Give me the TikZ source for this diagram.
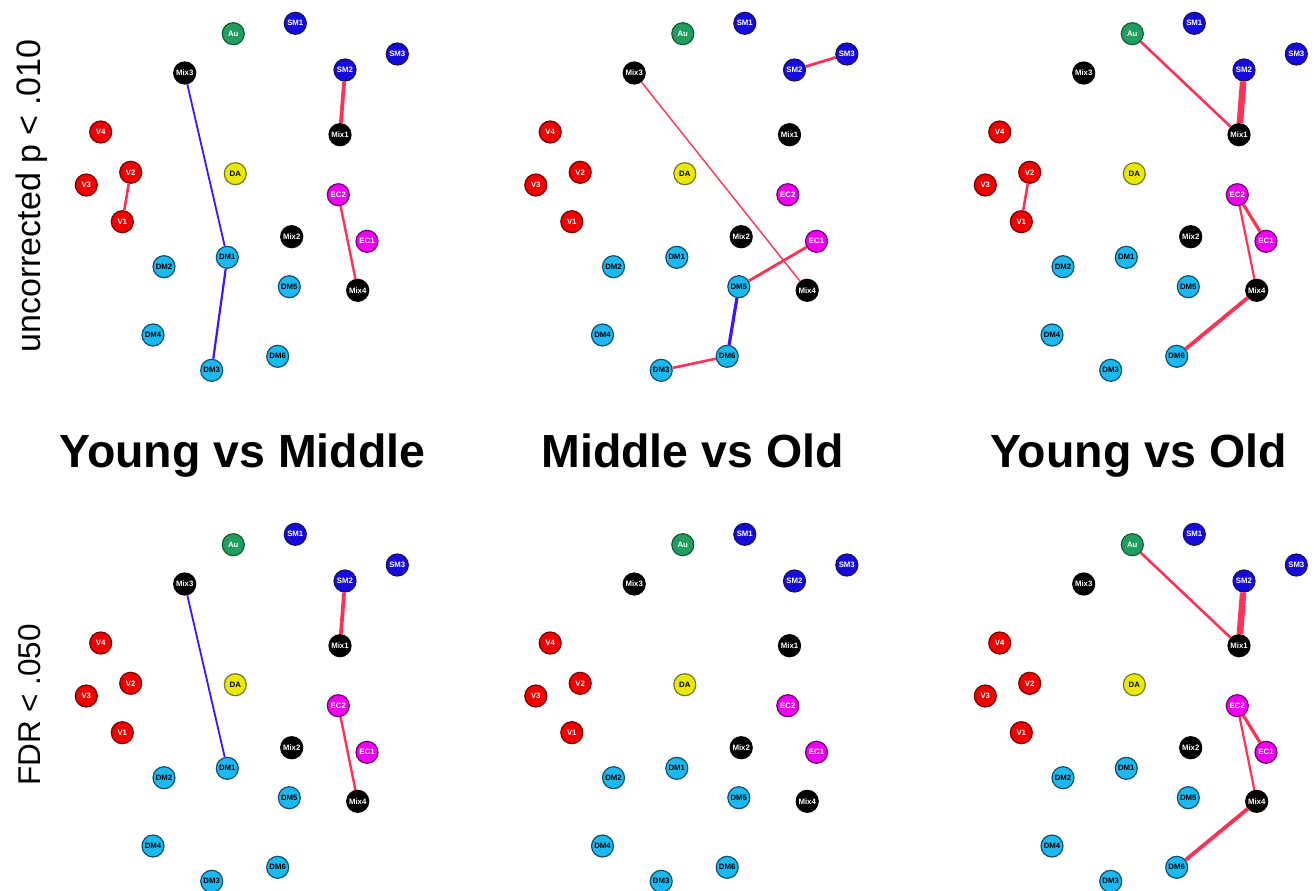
\documentclass[tikz,border=0pt]{standalone}
\usepackage{fontspec}
\setmainfont{Liberation Sans}
\definecolor{cAu}{RGB}{32,158,96}
\definecolor{cAuB}{RGB}{20,90,55}
\definecolor{cSM}{RGB}{22,10,220}
\definecolor{cSMB}{RGB}{20,20,100}
\definecolor{cMix}{RGB}{0,0,0}
\definecolor{cV}{RGB}{240,0,0}
\definecolor{cVB}{RGB}{120,0,0}
\definecolor{cDA}{RGB}{232,232,10}
\definecolor{cDAB}{RGB}{120,120,30}
\definecolor{cEC}{RGB}{240,0,240}
\definecolor{cECB}{RGB}{110,0,110}
\definecolor{cDM}{RGB}{28,184,240}
\definecolor{cDMB}{RGB}{16,80,110}
\definecolor{ePos}{RGB}{255,50,85}
\definecolor{eNeg}{RGB}{60,20,255}
\tikzset{
  roi/.style={circle, minimum size=22pt, inner sep=0pt, line width=1.2pt,
    font=\fontsize{7.8}{8}\selectfont\bfseries},
  au/.style={roi, fill=cAu, draw=cAuB, text=white},
  sm/.style={roi, fill=cSM, draw=cSMB, text=white},
  mix/.style={roi, fill=cMix, draw=black, text=white},
  vis/.style={roi, fill=cV, draw=cVB, text=white},
  da/.style={roi, fill=cDA, draw=cDAB, text=black},
  ec/.style={roi, fill=cEC, draw=cECB, text=white},
  dm/.style={roi, fill=cDM, draw=cDMB, text=black},
  pos/.style={draw=ePos, line width=#1},
  neg/.style={draw=eNeg, line width=#1},
  paneltitle/.style={font=\fontsize{46.5}{50}\selectfont\bfseries, anchor=base},
  rowlabel/.style={rotate=90, anchor=base},
}
\newcommand\roipanel[3]{%
  \begin{scope}[shift={(#2,#3)}]
    \node[au]  (#1Au)   at (233.3,33.7)  {Au};
    \node[sm]  (#1SM1)  at (295.3,23.3)  {SM1};
    \node[sm]  (#1SM3)  at (397.3,54)    {SM3};
    \node[mix] (#1Mix3) at (184.7,73)    {Mix3};
    \node[sm]  (#1SM2)  at (345,70)      {SM2};
    \node[vis] (#1V4)   at (100.7,132)   {V4};
    \node[mix] (#1Mix1) at (340,134.7)   {Mix1};
    \node[vis] (#1V2)   at (130.7,172.3) {V2};
    \node[da]  (#1DA)   at (235.3,173.7) {DA};
    \node[vis] (#1V3)   at (86.3,185)    {V3};
    \node[ec]  (#1EC2)  at (338.3,194.7) {EC2};
    \node[vis] (#1V1)   at (122.3,221.7) {V1};
    \node[mix] (#1Mix2) at (291.7,236.7) {Mix2};
    \node[ec]  (#1EC1)  at (367,241.3)   {EC1};
    \node[dm]  (#1DM1)  at (227.3,257.3) {DM1};
    \node[dm]  (#1DM2)  at (164,266.7)   {DM2};
    \node[dm]  (#1DM5)  at (289.3,286.7) {DM5};
    \node[mix] (#1Mix4) at (357.7,290.3) {Mix4};
    \node[dm]  (#1DM4)  at (153,335)     {DM4};
    \node[dm]  (#1DM6)  at (277.7,356.3) {DM6};
    \node[dm]  (#1DM3)  at (211.7,370.3) {DM3};
  \end{scope}}
\begin{document}
\begin{tikzpicture}[x=1pt,y=-1pt]
  \useasboundingbox (0,0) rectangle (1314,891);
  % panels
  \roipanel{a}{0}{0}
  \roipanel{b}{449.5}{0}
  \roipanel{c}{899}{0}
  \roipanel{d}{0}{511}
  \roipanel{e}{449.5}{511}
  \roipanel{f}{899}{511}
  % Young vs Middle, uncorrected
  \draw[pos=2.6pt] (aV2) -- (aV1);
  \draw[neg=1.8pt] (aMix3) -- (aDM1);
  \draw[neg=2.2pt] (aDM1) -- (aDM3);
  \draw[pos=3.8pt] (aSM2) -- (aMix1);
  \draw[pos=2.4pt] (aEC2) -- (aMix4);
  % Middle vs Old, uncorrected
  \draw[pos=2.8pt] (bSM2) -- (bSM3);
  \draw[pos=1.4pt] (bMix3) -- (bMix4);
  \draw[pos=2.8pt] (bEC1) -- (bDM5);
  \draw[neg=3.2pt] (bDM5) -- (bDM6);
  \draw[pos=2.6pt] (bDM6) -- (bDM3);
  % Young vs Old, uncorrected
  \draw[pos=2.6pt] (cAu) -- (cMix1);
  \draw[pos=6.5pt] (cSM2) -- (cMix1);
  \draw[pos=2.6pt] (cV2) -- (cV1);
  \draw[pos=3.2pt] (cEC2) -- (cEC1);
  \draw[pos=2.2pt] (cEC2) -- (cMix4);
  \draw[pos=3.8pt] (cMix4) -- (cDM6);
  % Young vs Middle, FDR
  \draw[neg=1.8pt] (dMix3) -- (dDM1);
  \draw[pos=3.8pt] (dSM2) -- (dMix1);
  \draw[pos=2.4pt] (dEC2) -- (dMix4);
  % Young vs Old, FDR
  \draw[pos=2.6pt] (fAu) -- (fMix1);
  \draw[pos=6.5pt] (fSM2) -- (fMix1);
  \draw[pos=3.2pt] (fEC2) -- (fEC1);
  \draw[pos=2.2pt] (fEC2) -- (fMix4);
  \draw[pos=3.8pt] (fMix4) -- (fDM6);
  % titles
  \node[paneltitle] (t1) at (242.5,467) {Young vs Middle};
  \node[paneltitle] (t2) at (692.5,467) {Middle vs Old};
  \node[paneltitle] (t3) at (1138.5,467) {Young vs Old};
  % row labels
  \node[rowlabel, font=\fontsize{34}{38}\selectfont] (r1) at (40,196) {uncorrected p < .010};
  \node[rowlabel, font=\fontsize{31.5}{36}\selectfont] (r2) at (40,705) {FDR < .050};
\end{tikzpicture}
\end{document}
